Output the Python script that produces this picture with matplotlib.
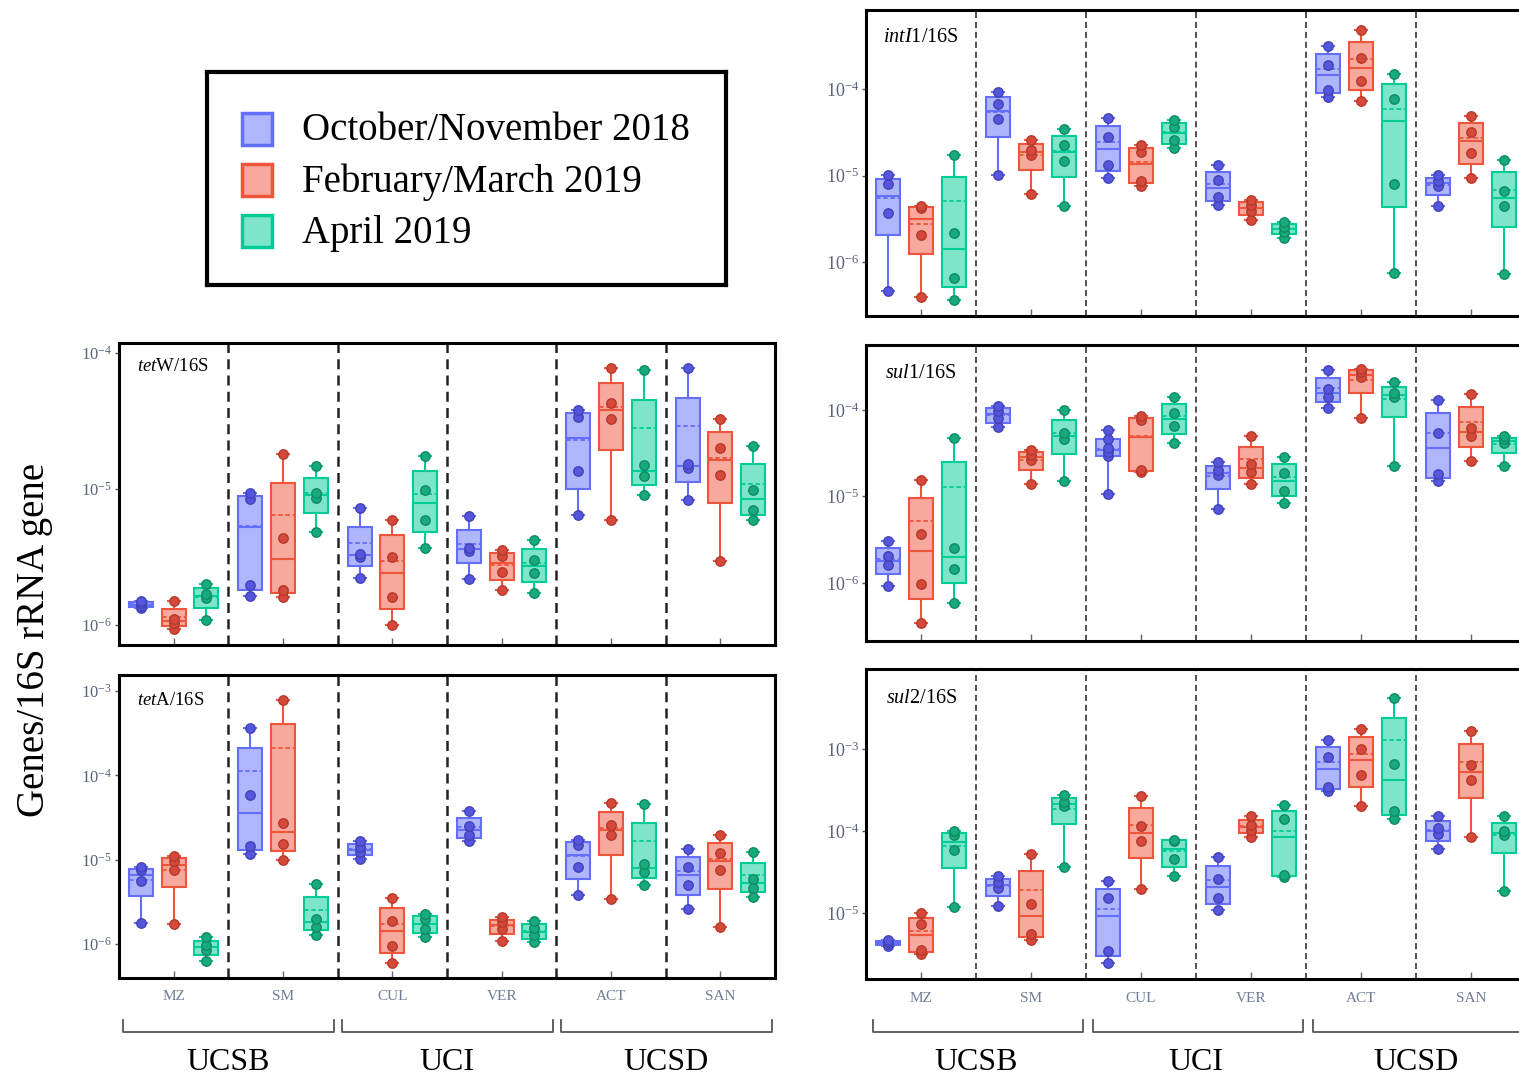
import numpy as np
import matplotlib

matplotlib.use("Agg")
import matplotlib.pyplot as plt
from matplotlib.patches import Rectangle
from matplotlib.transforms import blended_transform_factory

plt.rcParams["font.family"] = ["Liberation Serif", "DejaVu Serif"]
plt.rcParams["mathtext.fontset"] = "custom"
plt.rcParams["mathtext.rm"] = "Liberation Serif"
plt.rcParams["mathtext.it"] = "Liberation Serif:italic"

sites = ["MZ", "SM", "CUL", "VER", "ACT", "SAN"]
campuses = ["UCSB", "UCI", "UCSD"]
seasons = ["October/November 2018", "February/March 2019", "April 2019"]

# measured genes/16S per site, one list of samples per site
tetW_oct = [[1.33e-6, 1.38e-6, 1.43e-6, 1.5e-6], [1.62e-6, 1.95e-6, 8.4e-6, 9.2e-6],
            [2.19e-6, 3.16e-6, 3.3e-6, 7.18e-6], [2.15e-6, 3.5e-6, 3.64e-6, 6.3e-6],
            [6.41e-6, 1.34e-5, 3.37e-5, 3.77e-5], [8.28e-6, 1.42e-5, 1.52e-5, 7.75e-5]]
tetW_feb = [[0.93e-6, 1.03e-6, 1.1e-6, 1.5e-6], [1.6e-6, 1.79e-6, 4.3e-6, 1.78e-5],
            [0.99e-6, 1.6e-6, 3.16e-6, 5.89e-6], [1.79e-6, 2.45e-6, 3.19e-6, 3.54e-6],
            [5.89e-6, 3.26e-5, 4.27e-5, 7.75e-5], [2.95e-6, 1.26e-5, 1.99e-5, 3.22e-5]]
tetW_apr = [[1.08e-6, 1.56e-6, 1.69e-6, 2.0e-6], [4.83e-6, 8.5e-6, 9.3e-6, 1.46e-5],
            [3.64e-6, 5.89e-6, 9.8e-6, 1.73e-5], [1.71e-6, 2.38e-6, 2.98e-6, 4.19e-6],
            [9.0e-6, 1.23e-5, 1.48e-5, 7.45e-5], [5.89e-6, 6.98e-6, 9.8e-6, 2.07e-5]]

tetA_oct = [[1.79e-6, 5.58e-6, 7.48e-6, 8.18e-6], [1.18e-5, 1.44e-5, 5.79e-5, 3.67e-4],
            [1.03e-5, 1.23e-5, 1.41e-5, 1.69e-5], [1.66e-5, 1.95e-5, 2.55e-5, 3.77e-5],
            [3.78e-6, 8.18e-6, 1.48e-5, 1.73e-5], [2.62e-6, 4.97e-6, 8.18e-6, 1.35e-5]]
tetA_feb = [[1.74e-6, 7.68e-6, 9.64e-6, 1.12e-5], [1.0e-5, 1.55e-5, 2.72e-5, 7.89e-4],
            [5.96e-7, 9.64e-7, 1.87e-6, 3.54e-6], [1.09e-6, 1.52e-6, 1.82e-6, 2.09e-6],
            [3.45e-6, 1.95e-5, 2.62e-5, 4.7e-5], [1.62e-6, 7.48e-6, 1.2e-5, 1.95e-5]]
tetA_apr = [[6.4e-7, 8.57e-7, 9.9e-7, 1.21e-6], [1.3e-6, 1.62e-6, 2.0e-6, 5.19e-6],
            [1.21e-6, 1.52e-6, 2.0e-6, 2.29e-6], [1.06e-6, 1.27e-6, 1.56e-6, 1.87e-6],
            [4.97e-6, 7.14e-6, 8.97e-6, 4.53e-5], [3.6e-6, 4.66e-6, 5.96e-6, 1.23e-5]]

intI1_oct = [[4.67e-7, 3.68e-6, 7.98e-6, 1.02e-5], [1.02e-5, 4.54e-5, 6.71e-5, 9.23e-5],
             [9.5e-6, 1.33e-5, 2.76e-5, 4.62e-5], [4.52e-6, 5.6e-6, 8.95e-6, 1.33e-5],
             [8.01e-5, 9.83e-5, 1.88e-4, 3.11e-4], [4.4e-6, 7.5e-6, 8.71e-6, 1.02e-5]]
intI1_feb = [[4.0e-7, 2.07e-6, 4.27e-6, 4.4e-6], [6.1e-6, 1.71e-5, 1.99e-5, 2.6e-5],
             [7.5e-6, 8.71e-6, 1.87e-5, 2.27e-5], [3.1e-6, 3.92e-6, 4.6e-6, 5.26e-6],
             [7.33e-5, 1.23e-4, 2.28e-4, 4.72e-4], [9.35e-6, 1.82e-5, 3.18e-5, 4.83e-5]]
intI1_apr = [[3.67e-7, 6.65e-7, 2.16e-6, 1.71e-5], [4.4e-6, 1.48e-5, 2.27e-5, 3.47e-5],
             [2.08e-5, 2.6e-5, 3.6e-5, 4.41e-5], [1.93e-6, 2.26e-6, 2.58e-6, 2.95e-6],
             [7.46e-7, 7.98e-6, 7.73e-5, 1.49e-4], [7.26e-7, 4.4e-6, 6.68e-6, 1.52e-5]]

sul1_oct = [[9.25e-7, 1.6e-6, 2.04e-6, 3.08e-6], [6.3e-5, 8.0e-5, 9.8e-5, 1.11e-4],
            [1.06e-5, 2.9e-5, 3.3e-5, 3.6e-5, 4.6e-5, 5.8e-5], [7.13e-6, 1.75e-5, 2.01e-5, 2.49e-5],
            [1.04e-4, 1.4e-4, 1.73e-4, 2.93e-4], [1.51e-5, 1.8e-5, 5.4e-5, 1.3e-4]]
sul1_feb = [[3.41e-7, 9.82e-7, 3.68e-6, 1.57e-5], [1.38e-5, 2.62e-5, 3.05e-5, 3.47e-5],
            [1.91e-5, 2.01e-5, 7.68e-5, 8.53e-5], [1.38e-5, 1.91e-5, 2.4e-5, 5.04e-5],
            [8.02e-5, 2.37e-4, 2.75e-4, 3.0e-4], [2.55e-5, 4.95e-5, 6.16e-5, 1.53e-4]]
sul1_apr = [[5.8e-7, 1.44e-6, 2.52e-6, 4.73e-5], [1.51e-5, 4.6e-5, 5.4e-5, 1.0e-4],
            [4.15e-5, 6.44e-5, 9.15e-5, 1.42e-4], [8.49e-6, 1.16e-5, 1.85e-5, 2.86e-5],
            [2.24e-5, 1.42e-4, 1.55e-4, 2.11e-4], [2.24e-5, 4.15e-5, 4.6e-5, 4.95e-5]]

sul2_oct = [[4.05e-6, 4.21e-6, 4.45e-6, 4.75e-6], [1.24e-5, 2.05e-5, 2.42e-5, 2.86e-5],
            [2.48e-6, 3.49e-6, 1.52e-5, 2.47e-5], [1.1e-5, 1.52e-5, 2.66e-5, 4.86e-5],
            [3.12e-4, 3.43e-4, 8.15e-4, 1.3e-3], [6.03e-5, 9.33e-5, 1.09e-4, 1.56e-4]]
sul2_feb = [[3.21e-6, 3.6e-6, 7.36e-6, 1.0e-5], [4.75e-6, 5.56e-6, 1.32e-5, 5.33e-5],
            [1.97e-5, 7.53e-5, 1.16e-4, 2.67e-4], [8.5e-5, 1.05e-4, 1.2e-4, 1.53e-4],
            [2.02e-4, 4.84e-4, 1.02e-3, 1.78e-3], [8.5e-5, 4.25e-4, 6.4e-4, 1.67e-3]]
sul2_apr = [[1.21e-5, 5.86e-5, 8.91e-5, 1.02e-4], [3.68e-5, 2.06e-4, 2.3e-4, 2.77e-4],
            [2.86e-5, 4.56e-5, 7.53e-5, 7.96e-5], [2.78e-5, 2.97e-5, 1.42e-4, 2.09e-4],
            [1.42e-4, 1.79e-4, 6.58e-4, 4.23e-3], [1.87e-5, 9.0e-5, 1.0e-4, 1.56e-4]]

edge_colors = ["#636EFA", "#EF553B", "#00CC96"]
point_colors = ["#5656dc", "#d4493a", "#16aa7c"]
point_edges = ["#4343b8", "#b53a2c", "#108a64"]


def box_stats(vals):
    # quartiles as medians of the lower/upper halves (median excluded for odd n)
    s = np.sort(np.asarray(vals, dtype=float))
    n = len(s)
    h = n // 2
    return dict(med=np.median(s), q1=np.median(s[:h]), q3=np.median(s[n - h:]),
                mean=s.mean(), whislo=s[0], whishi=s[-1], fliers=[])


def draw_panel(ax, series, ylim_exp, ticks, label, label_pos, sep_lw, label_size, tick_size):
    width = 0.22
    for k, (data, ec, pc, pe) in enumerate(zip(series, edge_colors, point_colors, point_edges)):
        pos = np.arange(len(sites)) + 0.5 + (k - 1) * 0.3
        stats = [box_stats(v) for v in data]
        ax.bxp(stats, positions=pos, widths=width, patch_artist=True,
               showmeans=True, meanline=True, showfliers=False, capwidths=width * 0.5,
               boxprops=dict(facecolor=matplotlib.colors.to_rgba(ec, 0.5), edgecolor=ec, linewidth=1.5),
               medianprops=dict(color=ec, linewidth=1.5),
               meanprops=dict(color=ec, linewidth=1.3, linestyle=(0, (2.5, 1.5))),
               whiskerprops=dict(color=ec, linewidth=1.5),
               capprops=dict(color=ec, linewidth=1.5), manage_ticks=False)
        for p, v in zip(pos, data):
            ax.plot([p] * len(v), v, "o", ms=6.8, color=pc, mec=pe, mew=1.0, zorder=4)
    for x in range(1, len(sites)):
        ax.axvline(x, color="#222222", lw=sep_lw, ls=(0, (4, 2.5)), zorder=1)
    ax.set_yscale("log")
    ax.set_ylim(10 ** ylim_exp[0], 10 ** ylim_exp[1])
    ax.set_xlim(0, len(sites))
    ax.set_yticks([10.0 ** t for t in ticks])
    ax.set_yticklabels([r"$10^{%d}$" % t for t in ticks])
    ax.yaxis.set_minor_locator(matplotlib.ticker.NullLocator())
    ax.tick_params(axis="y", direction="out", length=3, width=1, pad=2,
                   labelsize=tick_size, labelcolor="#5a6478", color="#555555")
    ax.set_xticks(np.arange(len(sites)) + 0.5)
    ax.set_xticklabels([])
    ax.tick_params(axis="x", direction="in", length=5, width=1, color="#666666")
    for sp in ax.spines.values():
        sp.set_linewidth(2.2)
        sp.set_color("black")
    ax.text(label_pos[0], label_pos[1], label, transform=ax.transAxes,
            fontsize=label_size, va="center", ha="left")


fig = plt.figure(figsize=(15.19, 10.8), dpi=100)
W, H = 1519.0, 1080.0


def add_axes_px(x0, y0, x1, y1):
    return fig.add_axes([x0 / W, 1 - y1 / H, (x1 - x0) / W, (y1 - y0) / H])


ax_tetW = add_axes_px(119, 343, 775, 645)
ax_tetA = add_axes_px(119, 675, 775, 978)
ax_int = add_axes_px(866, 10, 1526, 316)
ax_sul1 = add_axes_px(866, 345, 1526, 641)
ax_sul2 = add_axes_px(866, 669, 1526, 979)

draw_panel(ax_tetW, [tetW_oct, tetW_feb, tetW_apr], (-6.15, -3.93), [-6, -5, -4],
           r"$\mathit{tet}$W/16S", (0.028, 0.923), 1.8, 13.5, 12)
draw_panel(ax_tetA, [tetA_oct, tetA_feb, tetA_apr], (-6.40, -2.81), [-6, -5, -4, -3],
           r"$\mathit{tet}$A/16S", (0.028, 0.915), 1.8, 13.5, 12)
draw_panel(ax_int, [intI1_oct, intI1_feb, intI1_apr], (-6.62, -3.09), [-6, -5, -4],
           r"$\mathit{intI}$1/16S", (0.026, 0.91), 1.1, 14.5, 13)
draw_panel(ax_sul1, [sul1_oct, sul1_feb, sul1_apr], (-6.67, -3.25), [-6, -5, -4],
           r"$\mathit{sul}$1/16S", (0.029, 0.905), 1.1, 14.5, 13)
draw_panel(ax_sul2, [sul2_oct, sul2_feb, sul2_apr], (-5.80, -2.02), [-5, -4, -3],
           r"$\mathit{sul}$2/16S", (0.031, 0.905), 1.1, 14.5, 13)

# site labels and campus brackets under the bottom panels
for ax, x0 in [(ax_tetA, 0.04), (ax_sul2, 0.06)]:
    ax.set_xticklabels(sites)
    ax.tick_params(axis="x", labelsize=11, labelcolor="#6f7d96", pad=9)
    tr = blended_transform_factory(ax.transData, fig.transFigure)
    y_top, y_bot, y_txt = 1 - 1020 / H, 1 - 1032 / H, 1 - 1062 / H
    for i, name in enumerate(campuses):
        a, b = 2 * i + x0, 2 * i + 1.97
        ax.plot([a, a, b, b], [y_top, y_bot, y_bot, y_top], color="#555555", lw=1.3,
                transform=tr, clip_on=False)
        ax.text(2 * i + 1.0, y_txt, name, transform=tr, ha="center", va="center", fontsize=23)

fig.text(35 / W, 1 - 640 / H, "Genes/16S rRNA gene", rotation=90, ha="center", va="center",
         fontsize=28)

# legend box
ax_leg = add_axes_px(207, 72, 726, 285)
ax_leg.set_xlim(0, 519)
ax_leg.set_ylim(213, 0)
ax_leg.set_xticks([])
ax_leg.set_yticks([])
for sp in ax_leg.spines.values():
    sp.set_linewidth(3)
for k, (name, ec) in enumerate(zip(seasons, edge_colors)):
    yc = 57 + k * 51
    ax_leg.add_patch(Rectangle((35, yc - 16), 30, 32, facecolor=matplotlib.colors.to_rgba(ec, 0.5),
                               edgecolor=ec, linewidth=2.5))
    ax_leg.text(95, yc + 2, name, fontsize=28, va="center", ha="left")

fig.savefig("out.png", dpi=100)
